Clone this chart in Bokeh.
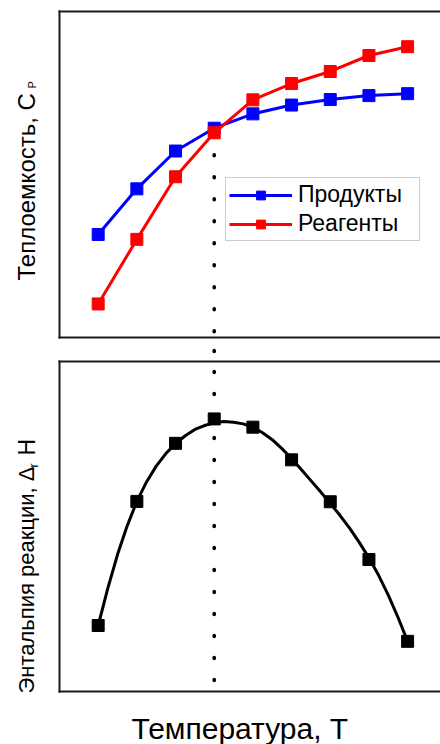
import numpy as np
from bokeh.plotting import figure
from bokeh.models import Range1d, LinearAxis, Label, Legend, LegendItem, FixedTicker
from bokeh.layouts import column, row
from bokeh.embed import file_html
from bokeh.resources import INLINE

# ---- data (arbitrary units) ----
temperature = [1, 2, 3, 4, 5, 6, 7, 8, 9]
cp_products = [31.6, 45.6, 57.2, 64.2, 68.6, 71.3, 73.0, 74.2, 74.8]
cp_reagents = [10.3, 30.1, 49.3, 62.8, 72.9, 77.9, 81.6, 86.5, 89.2]
dh_points = [20.0, 57.6, 75.2, 82.6, 80.1, 70.2, 57.5, 40.0, 15.2]
# smooth trend curve of the enthalpy
fit_t = [1.0, 1.25, 1.5, 1.75, 2.0, 2.25, 2.5, 2.75, 3.0, 3.25, 3.5, 3.75, 4.0, 4.25, 4.5,
         4.75, 5.0, 5.25, 5.5, 5.75, 6.0, 6.25, 6.5, 6.75, 7.0, 7.25, 7.5, 7.75, 8.0,
         8.25, 8.5, 8.75, 9.0]
fit_dh = [20.0, 31.3, 41.5, 50.2, 57.6, 63.5, 68.3, 72.1, 75.1, 77.5, 79.4, 80.6, 81.4,
          81.8, 81.6, 81.1, 80.1, 78.4, 76.3, 73.6, 70.6, 67.3, 63.9, 60.5, 57.0, 53.4,
          49.5, 45.2, 40.5, 35.2, 29.2, 22.5, 15.2]
cross_index = 3  # temperature at which both Cp curves cross

x_lo, x_hi = 0, 9.85
cp_lo, cp_hi = 0, 100
dh_lo, dh_hi = 0, 100

FONT = "Liberation Sans"
EDGE = "#1a1a1a"
DOT = dict(line_color="black", line_width=3.6, line_dash="1 21", line_cap="round")


def style_frame(p):
    p.outline_line_color = None
    p.grid.visible = False
    p.background_fill_color = "white"
    p.border_fill_color = "white"
    for ax in list(p.axis):
        ax.ticker = FixedTicker(ticks=[])
        ax.axis_line_color = EDGE
        ax.axis_line_width = 2
        ax.axis_line_cap = "square"
        ax.major_tick_line_color = None
        ax.minor_tick_line_color = None
        ax.major_tick_out = 0
        ax.major_tick_in = 0
        ax.major_label_standoff = 0
        ax.major_label_text_font_size = "0px"


def blank(width, height, xr=None):
    f = figure(width=width, height=height, output_backend="svg", toolbar_location=None,
               x_range=xr if xr is not None else Range1d(0, 1), y_range=Range1d(0, 1),
               x_axis_location=None, y_axis_location=None,
               min_border_left=0, min_border_right=0, min_border_top=0, min_border_bottom=0)
    f.outline_line_color = None
    f.grid.visible = False
    f.background_fill_color = "white"
    f.border_fill_color = "white"
    return f


def vlabel(text, x, y, size):
    return Label(x=x, y=y, x_units="screen", y_units="screen", text=text, angle=np.pi / 2,
                 text_font=FONT, text_font_size=size, text_baseline="alphabetic",
                 text_align="left", text_color="black")


# ---------------- top panel ----------------
top = figure(width=383, height=339, x_range=Range1d(x_lo, x_hi), y_range=Range1d(cp_lo, cp_hi),
             output_backend="svg", toolbar_location=None,
             min_border_left=2, min_border_right=0, min_border_top=11, min_border_bottom=2)
top.add_layout(LinearAxis(), "above")
style_frame(top)

top.line([temperature[cross_index]] * 2, [cp_reagents[cross_index], cp_lo], **DOT)

bl = top.line(temperature, cp_products, line_color="#0000FF", line_width=3)
bs = top.scatter(temperature, cp_products, marker="square", size=12,
                 fill_color="#0000FF", line_color="#0000FF")
rl = top.line(temperature, cp_reagents, line_color="#FF0000", line_width=3)
rs = top.scatter(temperature, cp_reagents, marker="square", size=12,
                 fill_color="#FF0000", line_color="#FF0000")

legend = Legend(items=[LegendItem(label="Продукты", renderers=[bl, bs]),
                       LegendItem(label="Реагенты", renderers=[rl, rs])],
                location=(166, 96), padding=3, spacing=2, margin=0,
                glyph_width=63, glyph_height=22, label_standoff=6, label_width=118,
                label_text_font=FONT, label_text_font_size="23px", label_text_color="black",
                border_line_color="#9a9a9a", border_line_width=1.5,
                background_fill_color="white", background_fill_alpha=1)
top.add_layout(legend)

# ---------------- gap strip (dotted line crosses between panels) ----------------
gap = blank(383, 20, xr=Range1d(x_lo, x_hi))
gap.min_border_left = 2
gap.line([temperature[cross_index]] * 2, [1, 0], line_dash_offset=11, **DOT)

# ---------------- bottom panel ----------------
bot = figure(width=383, height=334, x_range=Range1d(x_lo, x_hi), y_range=Range1d(dh_lo, dh_hi),
             output_backend="svg", toolbar_location=None,
             min_border_left=2, min_border_right=0, min_border_top=2, min_border_bottom=2)
bot.add_layout(LinearAxis(), "above")
style_frame(bot)

bot.line([temperature[cross_index]] * 2, [dh_lo, dh_hi], line_dash_offset=11, **DOT)
bot.line(fit_t, fit_dh, line_color="black", line_width=3)
bot.scatter(temperature, dh_points, marker="square", size=12, fill_color="black", line_color="black")

# ---------------- x label strip ----------------
xlab = blank(383, 51)
xlab.add_layout(Label(x=72, y=16, x_units="screen", y_units="screen", text="Температура, T",
                      text_font=FONT, text_font_size="30px",
                      text_baseline="alphabetic", text_align="left", text_color="black"))

# ---------------- y label strip ----------------
ylab = blank(57, 744)
ylab.add_layout(vlabel("Теплоемкость, C", 26, 464, "24px"))
ylab.add_layout(vlabel("P", 31, 656, "11px"))
ylab.add_layout(vlabel("Энтальпия реакции, Δ", 26, 51, "22px"))
ylab.add_layout(vlabel("r", 33, 277, "12px"))
ylab.add_layout(vlabel("H", 26, 289, "23px"))

layout = row(ylab, column(top, gap, bot, xlab, spacing=0), spacing=0)
open("out.html", "w").write(file_html(layout, INLINE))
